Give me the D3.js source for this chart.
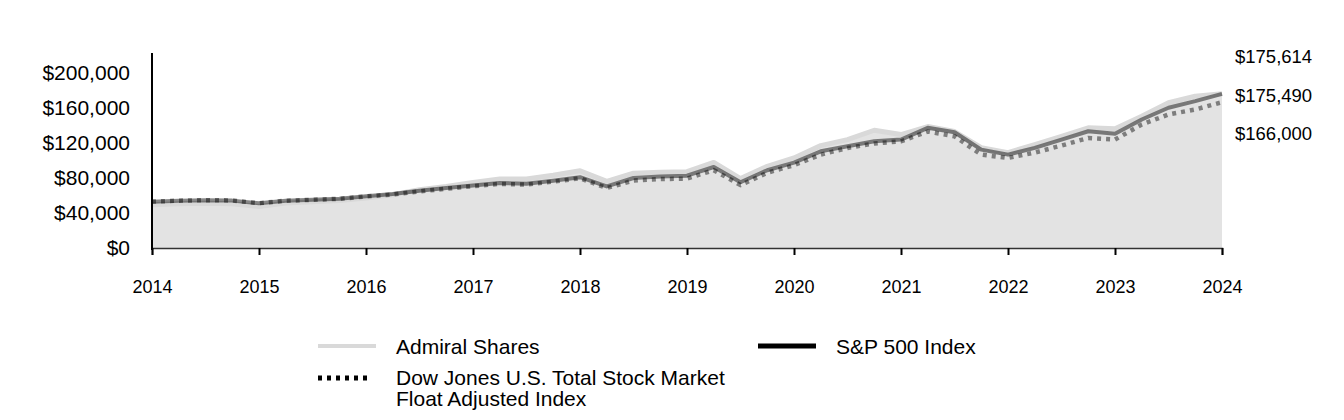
<!DOCTYPE html>
<html><head><meta charset="utf-8">
<script src="https://cdn.jsdelivr.net/npm/d3@7"></script>
<style>body{margin:0;background:#fff}svg{display:block}text{font-family:"Liberation Sans",Arial,sans-serif;fill:#000}</style>
</head><body>
<svg id="c" width="1344" height="420"></svg>
<script>
const yearTicks = [2014,2015,2016,2017,2018,2019,2020,2021,2022,2023,2024];
const yTickValues = [0,40000,80000,120000,160000,200000];
const seriesNames = ["Admiral Shares","S&P 500 Index","Dow Jones U.S. Total Stock Market Float Adjusted Index"];
// quarterly values, 2014 Q1 start to 2024
const admiral = [49143,50286,51086,50286,47200,51086,52571,54057,56800,60571,66286,70057,74629,78514,78514,82857,88000,75771,85143,86286,86857,97371,79086,92914,102514,116571,123429,134057,129143,138286,132571,114286,108571,117714,127200,136800,135657,150057,165371,172914,175614];
const sp500 = [52571,53714,54286,53943,50857,53714,54857,56000,58857,61371,65143,68229,71200,73943,73143,76571,80571,70057,79657,81486,82286,92229,74857,88571,97143,110057,115771,121486,123429,136800,131771,112000,106286,113943,123429,132914,129943,146286,159657,167200,175490];
const dowJones = [52800,53900,54500,54100,51000,53800,54900,56000,58700,61000,64500,67500,70400,73000,72200,75600,79400,68300,76800,78500,79000,88600,71700,85700,94300,106300,113900,119000,121500,132600,127200,106300,102500,108600,116600,125300,123400,140600,152000,157700,166000];

const svg = d3.select("#c");
const x = d3.scaleLinear().domain([2014,2024]).range([152,1222]);
const y = d3.scaleLinear().domain([0,222000]).range([248,53]);
const t = i => 2014 + i/4;

const area = d3.area().x((d,i)=>x(t(i))).y0(y(0)).y1(d=>y(d));
const line = d3.line().x((d,i)=>x(t(i))).y(d=>y(d));

svg.append("path").attr("d", area(admiral)).attr("fill","#e3e3e3");
svg.append("path").attr("d", line(admiral)).attr("fill","none").attr("stroke","#d9d9d9").attr("stroke-width",5).attr("stroke-linejoin","round");
svg.append("path").attr("d", line(dowJones)).attr("fill","none").attr("stroke","#000").attr("stroke-opacity",0.45).attr("stroke-width",4.5).attr("stroke-dasharray","4,5");
svg.append("path").attr("d", line(sp500)).attr("fill","none").attr("stroke","#000").attr("stroke-opacity",0.47).attr("stroke-width",4).attr("stroke-linejoin","round");

// x axis
const xa = svg.append("g").attr("transform",`translate(0,${y(0)})`)
  .call(d3.axisBottom(x).tickValues(yearTicks).tickFormat(d3.format("d")).tickSize(7).tickPadding(25));
xa.select(".domain").attr("stroke","#333").attr("stroke-width",1.5);
xa.selectAll(".tick line").attr("stroke","#000").attr("stroke-width",2);
xa.selectAll("text").attr("font-size",18).attr("font-family","Liberation Sans, Arial, sans-serif").attr("fill","#000");

// y axis
const ya = svg.append("g").attr("transform",`translate(${x(2014)},0)`)
  .call(d3.axisLeft(y).tickValues(yTickValues).tickFormat(d=>"$"+d3.format(",")(d)).tickSize(0).tickPadding(22));
ya.select(".domain").remove();
ya.selectAll("text").attr("font-size",21).attr("font-family","Liberation Sans, Arial, sans-serif").attr("fill","#000");
svg.append("line").attr("x1",x(2014)).attr("x2",x(2014)).attr("y1",53).attr("y2",y(0)+2).attr("stroke","#000").attr("stroke-width",2);

// end labels
const fmt = d => "$"+d3.format(",")(d);
const endVals = [admiral[admiral.length-1], sp500[sp500.length-1], dowJones[dowJones.length-1]];
endVals.forEach((v,i)=>{
  svg.append("text").attr("x",1235).attr("y",[57,96,134][i]).attr("dy","0.35em").attr("font-size",18.5).text(fmt(v));
});

// legend
const lg = svg.append("g");
lg.append("line").attr("x1",318).attr("x2",376).attr("y1",346).attr("y2",346).attr("stroke","#d9d9d9").attr("stroke-width",4);
lg.append("text").attr("x",396).attr("y",347).attr("dy","0.35em").attr("font-size",21).text(seriesNames[0]);
lg.append("line").attr("x1",758).attr("x2",816).attr("y1",346).attr("y2",346).attr("stroke","#000").attr("stroke-width",5);
lg.append("text").attr("x",836).attr("y",347).attr("dy","0.35em").attr("font-size",21).text(seriesNames[1]);
lg.append("line").attr("x1",318).attr("x2",372).attr("y1",378).attr("y2",378).attr("stroke","#000").attr("stroke-width",5).attr("stroke-dasharray","4,5");
lg.append("text").attr("x",396).attr("y",378).attr("dy","0.35em").attr("font-size",21).text("Dow Jones U.S. Total Stock Market");
lg.append("text").attr("x",396).attr("y",399).attr("dy","0.35em").attr("font-size",21).text("Float Adjusted Index");
</script>
</body></html>
